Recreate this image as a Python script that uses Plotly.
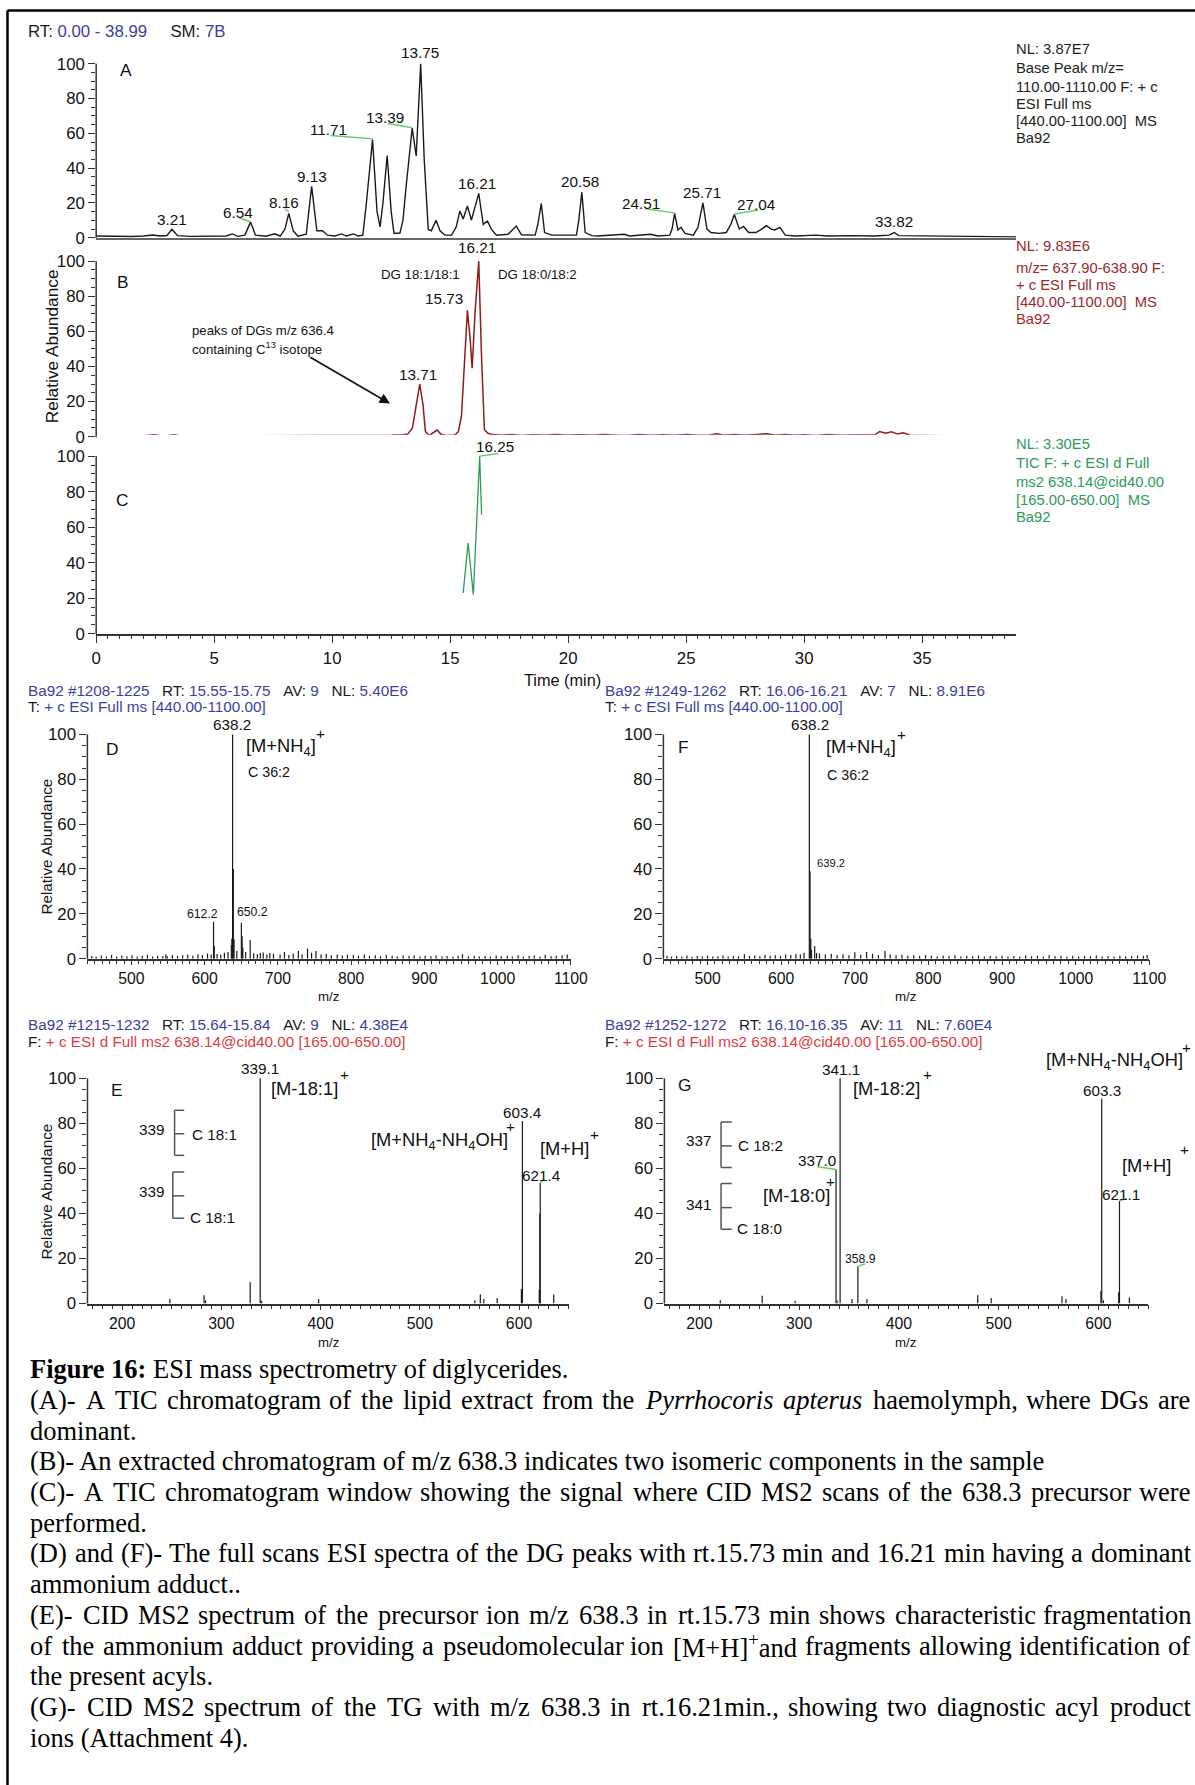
import re
import plotly.graph_objects as go

# Target picture is 1195 x 1785. The rendering pipeline was observed to shrink the
# figure slightly (x' = 4.5 + 0.982 x, y' = 0.5 + 0.9946 y), so the layout is laid out
# in target pixels and mapped through the inverse of that transform.
TW_, TH_ = 1195, 1785
SX, OX, SY, OY = 0.982, 4.5, 0.9946, 0.5
W = round((TW_ - OX) / SX)
H = round((TH_ - OY) / SY)
FSCALE = 1 / SX

def px(x): return ((x - OX) / SX) / W
def py(y): return 1 - ((y - OY) / SY) / H
def fs(s): return round(s * FSCALE, 2)

SANS = "Liberation Sans, Arial, sans-serif"
SERIF = "Liberation Serif, Times New Roman, serif"
BLACK = '#1a1a1a'; BLUE = '#3b3f9e'; RED = '#e03a3e'; DRED = '#9a2a2a'
GRN = '#2e9b58'; LEAD = '#6acb6a'; AX = '#333333'

# ---------------- data ----------------
# (A) TIC chromatogram
A_time = [0.0, 0.5, 1.0, 1.5, 2.0, 2.4, 2.7, 3.0, 3.21, 3.45,
          4.0, 4.5, 5.0, 5.5, 5.77, 6.0, 6.3, 6.54, 6.75, 7.2,
          7.56, 7.8, 8.0, 8.16, 8.35, 8.55, 8.9, 9.13, 9.35, 9.59,
          9.8, 10.1, 10.4, 10.6, 10.9, 11.1, 11.3, 11.45, 11.71, 11.9,
          12.03, 12.15, 12.33, 12.5, 12.62, 12.87, 13.0, 13.12, 13.39, 13.56,
          13.75, 13.9, 14.07, 14.2, 14.4, 14.57, 14.78, 15.06, 15.25, 15.41,
          15.55, 15.73, 15.9, 16.05, 16.21, 16.4, 16.58, 16.75, 16.96, 17.45,
          17.65, 17.8, 18.02, 18.6, 18.72, 18.86, 19.0, 19.3, 20.35, 20.45,
          20.58, 20.72, 21.0, 21.25, 22.38, 22.6, 23.5, 23.8, 24.3, 24.4,
          24.51, 24.65, 24.78, 24.95, 25.3, 25.5, 25.71, 25.88, 26.05, 26.4,
          26.7, 26.9, 27.04, 27.25, 27.43, 27.65, 27.95, 28.15, 28.4, 28.6,
          28.75, 28.97, 29.2, 29.6, 30.5, 31.0, 32.0, 33.0, 33.6, 33.82,
          34.0, 35.0, 35.5, 36.0, 37.0, 38.0, 38.99]
A_abund = [1.0, 0.8, 1.0, 0.7, 1.0, 1.6, 1.0, 1.3, 4.8, 1.2,
           0.8, 0.9, 0.8, 1.0, 2.2, 0.8, 1.5, 9.0, 1.5, 0.9,
           2.3, 1.0, 5.0, 14.0, 4.0, 0.9, 2.0, 29.5, 4.0, 4.0,
           1.5, 1.0, 2.2, 1.0, 2.2, 1.0, 1.5, 20, 56.5, 15,
           6.3, 20, 47.3, 15, 2.5, 2.7, 10, 27.8, 63, 47,
           100, 45, 4.8, 4.0, 10.0, 4.0, 1.5, 1.5, 6, 15.3,
           10.8, 18.2, 10.2, 17, 25.5, 7.7, 9.6, 4.8, 1.5, 2,
           4.5, 6.7, 1.7, 1.5, 8, 19.7, 3, 1.5, 1.5, 10,
           26.2, 3, 1.2, 1.0, 2.0, 1.0, 2.0, 1.0, 1.5, 5,
           14, 4.5, 6, 2.5, 1.5, 6, 20, 5, 3, 2.5,
           3, 8, 13.4, 5, 6.5, 3, 3, 4.5, 7, 5,
           4.5, 6, 1.5, 1.0, 1.5, 1.0, 1.2, 1.0, 1.5, 3,
           1.2, 1.0, 0.8, 0.7, 0.5, 0.5, 0.5]

# (B) extracted chromatogram m/z 638
B_time = [0.0, 1.0, 2.0, 2.5, 2.7, 3.0, 3.3, 3.5, 4.5, 5.2,
          5.4, 6.5, 8.0, 9.5, 10.5, 11.5, 12.5, 13.0, 13.2, 13.4,
          13.55, 13.71, 13.85, 13.95, 14.1, 14.3, 14.45, 14.6, 14.8, 15.2,
          15.35, 15.48, 15.6, 15.73, 15.85, 15.93, 16.05, 16.21, 16.33, 16.45,
          16.6, 16.8, 17.2, 17.6, 18.0, 18.5, 19.0, 19.5, 20.0, 20.5,
          21.0, 21.5, 22.0, 22.5, 23.0, 23.5, 24.0, 24.5, 25.0, 25.5,
          26.0, 26.3, 26.6, 27.0, 27.5, 28.0, 28.4, 28.8, 29.2, 29.6,
          30.0, 30.5, 31.0, 31.5, 32.0, 32.5, 33.0, 33.2, 33.45, 33.7,
          33.95, 34.2, 34.5, 35.0, 35.5, 35.9]
B_abund = [0.6, 0.5, 0.5, 1.1, 0.5, 0.6, 1.1, 0.5, 0.5, 0.9,
           0.5, 0.5, 0.5, 0.6, 0.5, 0.6, 0.8, 1.1, 1.5, 5,
           18, 30, 18, 3, 0.7, 2.5, 3.8, 1.5, 0.7, 1.0,
           3, 12, 40, 72, 55, 39, 70, 100, 45, 4,
           2, 1.2, 0.9, 1.3, 0.7, 1.1, 0.8, 1.3, 0.8, 1.1,
           0.8, 1.2, 0.9, 0.7, 1.3, 0.8, 1.1, 0.9, 1.3, 0.8,
           1.0, 1.7, 0.9, 1.2, 0.8, 1.1, 1.7, 0.8, 1.3, 0.9,
           1.1, 0.7, 1.2, 0.9, 1.0, 0.8, 1.1, 3.0, 2.0, 2.8,
           1.5, 2.2, 0.9, 0.7, 0.6, 0.6]

# (C) TIC of MS2 scans
C_time = [15.55, 15.76, 15.98, 16.25, 16.33]
C_abund = [23, 51, 22, 100, 67]

# (D) full scan spectrum rt 15.73
D_mz = [612.2, 613.2, 636.5, 637.2, 638.2, 639.2, 640.2, 650.2, 651.2, 652.2,
        662.2, 676.0, 689.0, 709.0, 728.0, 740.5, 752.0, 547.0, 952.0]
D_int = [16.5, 5.6, 6, 9, 100, 40, 8.5, 16, 10, 5,
         8.3, 2.5, 2.5, 3, 3.4, 4.5, 3.4, 2, 2]
D_noise_mz = [446, 452, 459, 466, 473, 480, 487, 494, 501, 508,
              515, 522, 529, 536, 543, 549, 556, 563, 570, 577,
              584, 591, 597, 604, 609, 617, 622, 627, 632, 644,
              656, 667, 672, 680, 685, 694, 703, 715, 721, 733,
              746, 759, 766, 773, 781, 788, 795, 803, 810, 818,
              825, 833, 840, 848, 856, 863, 871, 879, 886, 894,
              901, 909, 916, 924, 931, 939, 946, 960, 968, 975,
              983, 990, 998, 1005, 1013, 1020, 1028, 1035, 1043, 1050,
              1058, 1065, 1073, 1080, 1088, 1095]
D_noise_int = [1.2, 0.8, 1.4, 1.0, 1.6, 0.9, 1.3, 1.1, 1.5, 0.9,
               1.2, 1.7, 1.0, 1.3, 1.2, 1.1, 1.6, 1.2, 1.5, 1.9,
               1.3, 2.0, 1.6, 2.3, 1.8, 2.1, 1.7, 2.6, 3.0, 3.4,
               3.0, 2.4, 2.0, 2.7, 1.8, 2.2, 1.9, 1.6, 2.3, 2.0,
               2.6, 1.8, 2.1, 1.5, 1.9, 1.4, 1.7, 1.6, 1.3, 1.8,
               1.2, 1.5, 1.1, 1.6, 1.3, 1.0, 1.4, 1.2, 1.5, 1.0,
               1.3, 1.1, 1.4, 0.9, 1.2, 1.0, 1.3, 1.1, 1.3, 0.9,
               1.2, 1.0, 1.4, 1.1, 1.3, 0.9, 1.5, 1.0, 1.2, 1.4,
               1.0, 1.6, 1.1, 1.3, 1.5, 1.8]

# (F) full scan spectrum rt 16.21
F_mz = [638.2, 639.2, 640.2, 641.2, 645.5, 648.0, 716.0, 741.0, 550.0]
F_int = [100, 38.8, 9, 4, 5.6, 2.5, 3, 3.4, 2.0]
F_noise_mz = [445, 451, 458, 465, 472, 479, 486, 493, 500, 507,
              514, 521, 528, 535, 542, 557, 564, 571, 578, 585,
              592, 599, 606, 613, 620, 626, 631, 652, 660, 668,
              676, 684, 692, 700, 708, 724, 732, 748, 756, 764,
              772, 780, 788, 796, 804, 812, 820, 828, 836, 844,
              852, 860, 868, 876, 884, 892, 900, 908, 916, 924,
              932, 940, 948, 956, 964, 972, 980, 988, 996, 1004,
              1012, 1020, 1028, 1036, 1044, 1052, 1060, 1068, 1076, 1084,
              1092, 1097]
F_noise_int = [1.3, 0.9, 1.2, 1.0, 1.4, 0.8, 1.2, 1.0, 1.3, 0.9,
               1.1, 1.4, 1.0, 1.2, 1.1, 1.2, 1.4, 1.1, 1.6, 1.3,
               1.5, 1.2, 1.8, 1.6, 2.1, 1.9, 2.6, 2.3, 1.8, 2.2,
               1.6, 2.0, 1.5, 2.8, 1.7, 2.2, 1.6, 1.9, 1.5, 1.7,
               1.3, 1.5, 1.2, 1.6, 1.3, 1.1, 1.4, 1.2, 1.5, 1.0,
               1.3, 1.1, 1.4, 1.0, 1.2, 1.1, 1.3, 0.9, 1.2, 1.0,
               1.4, 1.1, 1.2, 1.0, 1.5, 1.1, 1.2, 0.9, 1.3, 1.0,
               1.2, 1.1, 1.4, 0.9, 1.2, 1.0, 1.3, 1.1, 1.2, 1.4,
               1.3, 1.6]

# (E) CID MS2 spectrum rt 15.73
E_mz = [248.0, 282.5, 284.0, 329.0, 339.1, 340.5, 398.0, 555.5, 561.0, 564.5,
        578.0, 602.4, 603.4, 620.4, 621.0, 621.4, 635.0]
E_int = [2.0, 3.7, 1.5, 9.5, 100, 1.2, 2.0, 1.5, 4.0, 2.0,
         2.5, 6.5, 81, 6.0, 40, 53.5, 4.0]

# (G) CID MS2 spectrum rt 16.21
G_mz = [221.0, 263.0, 296.0, 337.0, 338.0, 341.1, 353.0, 358.9, 368.0, 479.0,
        492.5, 563.5, 567.5, 602.5, 603.3, 605.0, 620.3, 621.1, 631.0]
G_int = [1.5, 3.5, 1.2, 59.5, 1.5, 100, 2.0, 16.5, 2.0, 3.7,
         2.5, 3.3, 2.0, 5.6, 91, 1.5, 5.0, 45.5, 2.7]

CHROM_TICKS = [0, 5, 10, 15, 20, 25, 30, 35]
FULL_TICKS = [500, 600, 700, 800, 900, 1000, 1100]
MS2_TICKS = [200, 300, 400, 500, 600]
Y_TICKS = [0, 20, 40, 60, 80, 100]
Y_MINOR = [5, 10, 15, 25, 30, 35, 45, 50, 55, 65, 70, 75, 85, 90, 95]

# ---------------- geometry (target pixels) ----------------
CHROM_X = (95.7, 1016.0)
D_X = (86.9, 570.5); F_X = (663.0, 1149.0); E_X = (87.0, 568.2); G_X = (664.0, 1148.0)
PANELS_Y = {'A': (238.3, 64.3), 'B': (437.3, 261.7), 'C': (634.3, 456.7),
            'D': (959.3, 735.0), 'E': (1304.3, 1079.0)}
CH_MAX = 112
SP_MAX = 106
AXMAP = {'': (CHROM_X, (0, 38.99), 'A'), '2': (CHROM_X, (0, 38.99), 'B'),
         '3': (CHROM_X, (0, 38.99), 'C'), '4': (D_X, (440, 1100), 'D'),
         '5': (F_X, (440, 1100), 'D'), '6': (E_X, (165, 650), 'E'),
         '7': (G_X, (165, 650), 'E')}

def d2p(ref, x, y):
    (xa, xb), (r0, r1), key = AXMAP[ref]
    X = xa + (x - r0) / (r1 - r0) * (xb - xa)
    y0, y100 = PANELS_Y[key]
    return X, y0 - (y0 - y100) * y / 100

def ydom(key, ymax):
    y0, y100 = PANELS_Y[key]
    top = y0 - (y0 - y100) * ymax / 100
    return [py(y0), py(top)]

def sticks(mz, inten):
    xs, ys = [], []
    for m, h in zip(mz, inten):
        xs += [m, m, None]
        ys += [0, h, None]
    return xs, ys

fig = go.Figure()
fig.add_trace(go.Scatter(x=A_time, y=A_abund, mode='lines', line=dict(color=BLACK, width=1.4),
                         xaxis='x', yaxis='y', cliponaxis=False))
fig.add_trace(go.Scatter(x=B_time, y=B_abund, mode='lines', line=dict(color='#8e1c1c', width=1.5),
                         xaxis='x2', yaxis='y2', cliponaxis=False))
fig.add_trace(go.Scatter(x=C_time, y=C_abund, mode='lines', line=dict(color=GRN, width=1.3),
                         xaxis='x3', yaxis='y3', cliponaxis=False))
for (mz, it, ax) in [(D_noise_mz, D_noise_int, '4'), (D_mz, D_int, '4'),
                     (F_noise_mz, F_noise_int, '5'), (F_mz, F_int, '5'),
                     (E_mz, E_int, '6'), (G_mz, G_int, '7')]:
    xs, ys = sticks(mz, it)
    fig.add_trace(go.Scatter(x=xs, y=ys, mode='lines', line=dict(color=BLACK, width=1.2),
                             xaxis='x' + ax, yaxis='y' + ax))

tickfont = dict(family=SANS, size=fs(16.5), color='#111')
sp_tickfont = dict(family=SANS, size=fs(15.5), color='#111')

def ycfg(dom, ymax, anchor):
    return dict(domain=dom, range=[0, ymax], anchor=anchor, tickvals=Y_TICKS, ticks='outside',
                ticklen=7, tickwidth=1.2, tickcolor=AX, showline=False, showgrid=False,
                zeroline=False, tickfont=tickfont,
                minor=dict(tickmode='array', tickvals=Y_MINOR, ticks='outside', ticklen=4,
                           tickwidth=1, tickcolor=AX))

def xcfg(dom, rng, anchor, tickvals=None, minor_dtick=None, linecolor=AX, ticklen=8, font=None):
    d = dict(domain=dom, range=rng, anchor=anchor, showline=True, linecolor=linecolor,
             linewidth=1.5, showgrid=False, zeroline=False, layer='below traces')
    if tickvals is None:
        d.update(ticks='', showticklabels=False)
    else:
        d.update(tickvals=tickvals, ticks='outside', ticklen=ticklen, tickwidth=1.2, tickcolor=AX,
                 tickfont=font or tickfont,
                 minor=dict(dtick=minor_dtick, ticks='outside', ticklen=4, tickwidth=1, tickcolor=AX))
    return d

cx = [px(CHROM_X[0]), px(CHROM_X[1])]
fig.update_layout(
    xaxis=xcfg(cx, [0, 38.99], 'y', linecolor='#666'),
    yaxis=ycfg(ydom('A', CH_MAX), CH_MAX, 'x'),
    xaxis2=xcfg(cx, [0, 38.99], 'y2'),
    yaxis2=ycfg(ydom('B', CH_MAX), CH_MAX, 'x2'),
    xaxis3=xcfg(cx, [0, 38.99], 'y3', CHROM_TICKS, 0.5),
    yaxis3=ycfg(ydom('C', CH_MAX), CH_MAX, 'x3'),
    xaxis4=xcfg([px(D_X[0]), px(D_X[1])], [440, 1100], 'y4', FULL_TICKS, 10, ticklen=5, font=sp_tickfont),
    yaxis4=ycfg(ydom('D', SP_MAX), SP_MAX, 'x4'),
    xaxis5=xcfg([px(F_X[0]), px(F_X[1])], [440, 1100], 'y5', FULL_TICKS, 10, ticklen=5, font=sp_tickfont),
    yaxis5=ycfg(ydom('D', SP_MAX), SP_MAX, 'x5'),
    xaxis6=xcfg([px(E_X[0]), px(E_X[1])], [165, 650], 'y6', MS2_TICKS, 10, ticklen=5, font=sp_tickfont),
    yaxis6=ycfg(ydom('E', SP_MAX), SP_MAX, 'x6'),
    xaxis7=xcfg([px(G_X[0]), px(G_X[1])], [165, 650], 'y7', MS2_TICKS, 10, ticklen=5, font=sp_tickfont),
    yaxis7=ycfg(ydom('E', SP_MAX), SP_MAX, 'x7'),
)

shapes = []
# border: left and top edges
shapes.append(dict(type='line', xref='paper', yref='paper', x0=px(7), x1=px(7),
                   y0=py(1800), y1=py(11), line=dict(color='black', width=2.5)))
shapes.append(dict(type='line', xref='paper', yref='paper', x0=px(7), x1=px(1200),
                   y0=py(11), y1=py(11), line=dict(color='black', width=2.5)))
# y-axis lines (0..100)
for xpx, key in [(CHROM_X[0], 'A'), (CHROM_X[0], 'B'), (CHROM_X[0], 'C'),
                 (D_X[0], 'D'), (F_X[0], 'D'), (E_X[0], 'E'), (G_X[0], 'E')]:
    y0, y100 = PANELS_Y[key]
    shapes.append(dict(type='line', xref='paper', yref='paper', x0=px(xpx), x1=px(xpx),
                       y0=py(y0), y1=py(y100), line=dict(color=AX, width=1.5)))

def seg(ref, x0, y0, x1, y1, color, width=1.5):
    X0, Y0 = d2p(ref, x0, y0)
    X1, Y1 = d2p(ref, x1, y1)
    shapes.append(dict(type='line', xref='paper', yref='paper', x0=px(X0), y0=py(Y0),
                       x1=px(X1), y1=py(Y1), line=dict(color=color, width=width)))

def lead(ref, x0, y0, x1, y1):
    seg(ref, x0, y0, x1, y1, LEAD)

def brk(ref, xv, xa, ys):
    seg(ref, xv, ys[0], xv, ys[-1], '#555')
    for yy in ys:
        seg(ref, xv, yy, xa, yy, '#555')

# A leaders
lead('', 6.05, 11.5, 6.54, 9.2)
lead('', 8.0, 16.7, 8.16, 14.8)
lead('', 9.92, 58.8, 11.71, 56.9)
lead('', 12.35, 65.7, 13.39, 63.3)
lead('', 23.25, 16.7, 24.51, 14.3)
lead('', 27.04, 13.6, 28.05, 15.9)
# C leader
lead('3', 16.25, 100, 17.05, 101.5)
# E leader
lead('6', 621.4, 53.5, 625.5, 55.2)
# G leaders
lead('7', 318.5, 60.7, 337.0, 59.5)
lead('7', 358.9, 16.5, 366.0, 17.7)
lead('7', 621.1, 45.5, 628.5, 46.8)
# brackets
brk('6', 252.8, 262.5, [85.8, 75.4, 65.8])
brk('6', 251.0, 262.5, [58.4, 47.8, 37.9])
brk('7', 221.8, 232.5, [80.6, 70.0, 60.4])
brk('7', 221.8, 232.5, [53.3, 42.6, 33.0])

anns = []
def T(text, x, y, ref=None, size=14, color='#111', xa='center', ya='middle', family=SANS, angle=0):
    if ref is not None:
        x, y = d2p(ref, x, y)
    anns.append(dict(text=text, x=px(x), y=py(y), xref='paper', yref='paper', showarrow=False,
                     font=dict(family=family, size=fs(size), color=color), xanchor=xa, yanchor=ya,
                     textangle=angle))

def span(parts):
    return ''.join('<span style="color:%s">%s</span>' % (c, t) for t, c in parts)

NB = '\u00a0'
S3 = NB * 3
T(span([('RT:' + NB, BLACK), ('0.00 - 38.99', BLUE), (NB * 5 + 'SM:' + NB, BLACK), ('7B', BLUE)]),
  26, 32.3, size=16.5, xa='left')

# right-side descriptors
RFS = 14.5
for txt, y in [('NL: 3.87E7', 50), ('Base Peak m/z=', 69), ('110.00-1110.00 F: + c', 88),
               ('ESI Full ms', 105), ('[440.00-1100.00]' + NB * 2 + 'MS', 122), ('Ba92', 138.5)]:
    T(txt, 1014, y, size=RFS, color='#222', xa='left')
for txt, y in [('NL: 9.83E6', 247), ('m/z= 637.90-638.90 F:', 269), ('+ c ESI Full ms', 286),
               ('[440.00-1100.00]' + NB * 2 + 'MS', 303), ('Ba92', 320)]:
    T(txt, 1014, y, size=RFS, color=DRED, xa='left')
for txt, y in [('NL: 3.30E5', 445), ('TIC F: + c ESI d Full', 464), ('ms2 638.14@cid40.00', 482.5),
               ('[165.00-650.00]' + NB * 2 + 'MS', 500.5), ('Ba92', 518)]:
    T(txt, 1014, y, size=RFS, color=GRN, xa='left')

# panel letters
T('A', 126, 70.7, size=17); T('B', 123, 283, size=17); T('C', 122.5, 501, size=17)
T('Relative Abundance', 51.7, 346.7, size=17, angle=-90)
T('Time (min)', 562, 680.7, size=16)

PK = 15
# A peak labels
for txt, x, y in [('3.21', 3.21, 10.5), ('6.54', 6.0, 14.8), ('8.16', 7.95, 20.0),
                  ('9.13', 9.13, 35.4), ('11.71', 9.85, 62.3), ('13.39', 12.25, 69.0),
                  ('13.75', 13.7, 106.3), ('16.21', 16.15, 31.2), ('20.58', 20.5, 32.6),
                  ('24.51', 23.1, 19.7), ('25.71', 25.65, 26.2), ('27.04', 28.0, 19.4),
                  ('33.82', 33.8, 9.6)]:
    T(txt, x, y, ref='', size=PK)
# B labels
T('16.21', 16.15, 107.5, ref='2', size=PK)
T('15.73', 15.62, 78.6, ref='2', size=PK, xa='right')
T('13.71', 13.62, 35.5, ref='2', size=PK)
T('DG 18:1/18:1', 13.76, 92.4, ref='2', size=13)
T('DG 18:0/18:2', 18.69, 92.4, ref='2', size=13)
T('peaks of DGs m/z 636.4', 3.98, 60.7, ref='2', size=13, xa='left')
T('containing C<sup>13</sup> isotope', 3.98, 50.3, ref='2', size=13, xa='left')
hx, hy = d2p('2', 12.45, 18.9)
tx, ty = d2p('2', 9.07, 45.6)
anns.append(dict(x=px(hx), y=py(hy), xref='paper', yref='paper',
                 ax=(tx - hx) / SX, ay=(ty - hy) / SY,
                 showarrow=True, arrowhead=2, arrowsize=1.3, arrowwidth=1.6, arrowcolor='#111', text=''))
# C label
T('16.25', 16.88, 105.5, ref='3', size=PK)

# spectra headers
def header(x, y1, y2, l1, l2):
    T(span(l1), x, y1, size=15, xa='left')
    T(span(l2), x, y2, size=15, xa='left')

header(26, 690.7, 707.5,
       [('Ba92 #1208-1225', BLUE), (S3 + 'RT:' + NB, BLACK), ('15.55-15.75', BLUE),
        (S3 + 'AV:' + NB, BLACK), ('9', BLUE), (S3 + 'NL:' + NB, BLACK), ('5.40E6', BLUE)],
       [('T:' + NB, BLACK), ('+ c ESI Full ms [440.00-1100.00]', BLUE)])
header(603, 690.7, 707.5,
       [('Ba92 #1249-1262', BLUE), (S3 + 'RT:' + NB, BLACK), ('16.06-16.21', BLUE),
        (S3 + 'AV:' + NB, BLACK), ('7', BLUE), (S3 + 'NL:' + NB, BLACK), ('8.91E6', BLUE)],
       [('T:' + NB, BLACK), ('+ c ESI Full ms [440.00-1100.00]', BLUE)])
header(26, 1025, 1042.3,
       [('Ba92 #1215-1232', BLUE), (S3 + 'RT:' + NB, BLACK), ('15.64-15.84', BLUE),
        (S3 + 'AV:' + NB, BLACK), ('9', BLUE), (S3 + 'NL:' + NB, BLACK), ('4.38E4', BLUE)],
       [('F:' + NB, BLACK), ('+ c ESI d Full ms2 638.14@cid40.00 [165.00-650.00]', RED)])
header(603, 1025, 1042.3,
       [('Ba92 #1252-1272', BLUE), (S3 + 'RT:' + NB, BLACK), ('16.10-16.35', BLUE),
        (S3 + 'AV:' + NB, BLACK), ('11', BLUE), (S3 + 'NL:' + NB, BLACK), ('7.60E4', BLUE)],
       [('F:' + NB, BLACK), ('+ c ESI d Full ms2 638.14@cid40.00 [165.00-650.00]', RED)])

# axis titles for spectra
T('Relative Abundance', 46, 846.7, size=15, angle=-90)
T('Relative Abundance', 46, 1191.7, size=15, angle=-90)
T('m/z', 328, 997, size=13); T('m/z', 905, 997, size=13)
T('m/z', 328, 1343, size=13); T('m/z', 905, 1343, size=13)

NH4 = '[M+NH<sub>4</sub>]'
NH4OH = '[M+NH<sub>4</sub>-NH<sub>4</sub>OH]'
# D
T('D', 474, 93.3, ref='4', size=17)
T('638.2', 637.5, 104.5, ref='4', size=15)
T(NH4, 654.2, 94.5, ref='4', size=18, xa='left')
T('+', 758.8, 100.5, ref='4', size=15)
T('C 36:2', 687.7, 83, ref='4', size=14)
T('612.2', 597.8, 19.8, ref='4', size=12)
T('650.2', 664.7, 20.8, ref='4', size=12)
# F
T('F', 467.3, 94.5, ref='5', size=17)
T('638.2', 638.5, 104.5, ref='5', size=15)
T(NH4, 657.7, 94, ref='5', size=18, xa='left')
T('+', 763, 99.8, ref='5', size=15)
T('C 36:2', 691.4, 82, ref='5', size=14)
T('639.2', 646.2, 42.5, ref='5', size=11, xa='left')
# E
T('E', 195, 94.8, ref='6', size=17)
T('339.1', 338.9, 104.3, ref='6', size=15)
T('[M-18:1]', 384, 95.4, ref='6', size=18)
T('+', 424.5, 101.8, ref='6', size=15)
T('603.4', 603.9, 84.8, ref='6', size=15)
T(NH4OH, 519.4, 72.2, ref='6', size=18)
T('+', 591.5, 78.4, ref='6', size=15)
T('[M+H]', 645.5, 68.8, ref='6', size=18)
T('+', 676.4, 75.1, ref='6', size=15)
T('621.4', 623, 57, ref='6', size=15)
T('339', 230, 77.4, ref='6', size=15); T('C 18:1', 268, 75.2, ref='6', size=15, xa='left')
T('339', 230, 49.6, ref='6', size=15); T('C 18:1', 266.5, 38.2, ref='6', size=15, xa='left')
# G
T('G', 184.7, 97, ref='7', size=17)
T('341.1', 342.4, 104, ref='7', size=15)
T('[M-18:2]', 388, 95.4, ref='7', size=18)
T('+', 428.9, 101.8, ref='7', size=15)
T('337.0', 317.9, 63.3, ref='7', size=15)
T('[M-18:0]', 297.6, 47.8, ref='7', size=18)
T('+', 331.3, 54.4, ref='7', size=15)
T('358.9', 361.5, 19.6, ref='7', size=12)
T('603.3', 603.8, 94.8, ref='7', size=15)
T(NH4OH, 615.7, 107.7, ref='7', size=18)
T('+', 688, 113.7, ref='7', size=15)
T('[M+H]', 648.6, 61.4, ref='7', size=18)
T('+', 686, 68.5, ref='7', size=15)
T('621.1', 623, 48.5, ref='7', size=15)
T('337', 199, 72.2, ref='7', size=15); T('C 18:2', 237, 70, ref='7', size=15, xa='left')
T('341', 199, 44.1, ref='7', size=15); T('C 18:0', 236, 33.3, ref='7', size=15, xa='left')

# ---------------- caption (justified) ----------------
TW = {' ': 250, '!': 333, '(': 333, ')': 333, ',': 250, '-': 333, '.': 250, '/': 278, ':': 278,
      '[': 333, ']': 333, '+': 564, '@': 921}
for c in '0123456789':
    TW[c] = 500
TW.update(dict(zip('ABCDEFGHIJKLMNOPQRSTUVWXYZ',
                   [722, 667, 667, 722, 611, 556, 722, 722, 333, 389, 722, 611, 889, 722, 722, 556,
                    722, 667, 556, 611, 722, 722, 944, 722, 722, 611])))
TW.update(dict(zip('abcdefghijklmnopqrstuvwxyz',
                   [444, 500, 444, 500, 444, 333, 500, 500, 278, 278, 500, 278, 778, 500, 500, 500,
                    500, 333, 389, 278, 500, 500, 722, 500, 500, 444])))

def twidth(s, size):
    ital = '<i>' in s
    s = re.sub(r'<sup>.*?</sup>', '\u2009', s)
    s = re.sub(r'<[^>]+>', '', s)
    w = sum(TW.get(c, 400) for c in s) / 1000 * size
    return w * 1.06 if ital else w

CAP_FS = 26
CAP_L, CAP_R = 28, 1187
caption = [
    ("<b>Figure 16:</b> ESI mass spectrometry of diglycerides.", False),
    ("(A)- A TIC chromatogram of the lipid extract from the <i>Pyrrhocoris</i> <i>apterus</i> haemolymph, where DGs are", True),
    ("dominant.", False),
    ("(B)- An extracted chromatogram of m/z 638.3 indicates two isomeric components in the sample", False),
    ("(C)- A TIC chromatogram window showing the signal where CID MS2 scans of the 638.3 precursor were", True),
    ("performed.", False),
    ("(D) and (F)- The full scans ESI spectra of the DG peaks with rt.15.73 min and 16.21 min having a dominant", True),
    ("ammonium adduct..", False),
    ("(E)- CID MS2 spectrum of the precursor ion m/z 638.3 in rt.15.73 min shows characteristic fragmentation", True),
    ("of the ammonium adduct providing a pseudomolecular ion [M+H]<sup>+</sup>and fragments allowing identification of", True),
    ("the present acyls.", False),
    ("(G)- CID MS2 spectrum of the TG with m/z 638.3 in rt.16.21min., showing two diagnostic acyl product", True),
    ("ions (Attachment 4).", False),
]
for k, (line, just) in enumerate(caption):
    yc = 1370 + 30.7 * k
    if not just:
        T(line, CAP_L, yc, size=CAP_FS, color='#000', xa='left', family=SERIF)
        continue
    words = line.split(' ')
    ws = [twidth(w, CAP_FS) for w in words]
    gap = (CAP_R - CAP_L - sum(ws)) / (len(words) - 1)
    gap = max(gap, 0.15 * CAP_FS)
    xcur = CAP_L
    for w, wd in zip(words, ws):
        T(w, xcur, yc, size=CAP_FS, color='#000', xa='left', family=SERIF)
        xcur += wd + gap

fig.update_layout(width=W, height=H, margin=dict(l=0, r=0, t=0, b=0),
                  paper_bgcolor='white', plot_bgcolor='white', showlegend=False,
                  shapes=shapes, annotations=anns)
fig.write_html("out.html")
